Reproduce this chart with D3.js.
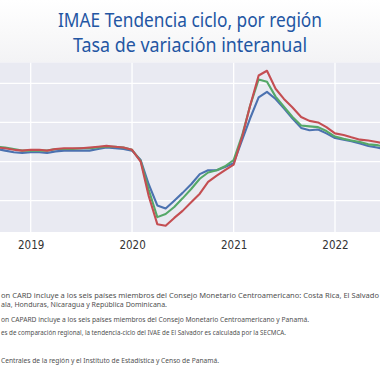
<!DOCTYPE html>
<html>
<head>
<meta charset="utf-8">
<script src="https://cdn.jsdelivr.net/npm/d3@7"></script>
<style>
  html, body { margin: 0; padding: 0; background: #fff; }
  svg { display: block; }
</style>
</head>
<body>
<div id="chart-container"></div>
<script>
// months from Sep 2018 to Jul 2022
const startMonth = [2018, 8]
const seriesNames = ['CARD', 'CAPARD', 'CA']
// interannual rate of change (%)
const blueValues = [1.6, 1.4, 1.2, 1.1, 1.2, 1.2, 1.1, 1.3, 1.4, 1.4, 1.4, 1.4, 1.6, 1.8, 1.7, 1.6, 1.4, 0.2,
  -2.9, -5.6, -6.0, -5.0, -4.0, -2.9, -1.6, -1.1, -1.1, -0.7, -0.2, 2.8, 5.5, 8.2, 8.9, 8.0, 6.8, 5.5,
  4.3, 4.0, 4.1, 3.6, 3.0, 2.8, 2.6, 2.3, 2.0, 1.8, 1.6]
const greenValues = [1.9, 1.8, 1.6, 1.4, 1.4, 1.4, 1.4, 1.6, 1.6, 1.6, 1.7, 1.7, 1.8, 1.9, 1.9, 1.8, 1.5, 0.1,
  -3.6, -7.1, -6.7, -5.8, -4.7, -3.5, -2.2, -1.4, -1.1, -0.6, 0.2, 3.4, 7.1, 10.5, 10.2, 8.3, 7.0, 5.7,
  4.6, 4.5, 4.4, 3.9, 3.2, 2.9, 2.7, 2.5, 2.2, 2.1, 1.9]
const redValues = [1.8, 1.7, 1.5, 1.4, 1.5, 1.5, 1.4, 1.6, 1.7, 1.7, 1.7, 1.8, 1.9, 2.0, 1.9, 1.8, 1.5, 0.0,
  -4.4, -8.0, -8.2, -7.2, -6.3, -5.2, -4.1, -2.6, -1.8, -1.1, -0.4, 3.2, 7.1, 11.0, 11.6, 9.3, 8.0, 6.9,
  5.7, 5.2, 5.0, 4.4, 3.6, 3.4, 3.1, 2.8, 2.7, 2.5, 2.3]
const yearTicks = [2019, 2020, 2021, 2022]
const yTicks = [-10, -5, 0, 5, 10, 15]
const titleLines = ['IMAE Tendencia ciclo, por región', 'Tasa de variación interanual']
const noteLines = [
  'on CARD incluye a los seis países miembros del Consejo Monetario Centroamericano: Costa Rica, El Salvado',
  'ala, Honduras, Nicaragua y República Dominicana.',
  'on CAPARD incluye a los seis países miembros del Consejo Monetario Centroamericano y Panamá.',
  'es de comparación regional, la tendencia-ciclo del IVAE de El Salvador es calculada por la SECMCA.',
  'Centrales de la región y el Instituto de Estadística y Censo de Panamá.'
]

const width = 380
const height = 380
const plot = { left: 0, right: 380, top: 62.5, bottom: 232 }

const svg = d3.select('#chart-container')
  .append('svg')
  .attr('width', width)
  .attr('height', height)

// faint header shading
const defs = svg.append('defs')
const grad = defs.append('linearGradient')
  .attr('id', 'head-grad')
  .attr('x1', 0).attr('y1', 0).attr('x2', 0).attr('y2', 1)
grad.append('stop').attr('offset', '0%').attr('stop-color', '#ffffff')
grad.append('stop').attr('offset', '100%').attr('stop-color', '#f3f3f5')
svg.append('rect')
  .attr('x', 0).attr('y', 0)
  .attr('width', width).attr('height', plot.top)
  .attr('fill', 'url(#head-grad)')

defs.append('clipPath')
  .attr('id', 'plot-clip')
  .append('rect')
  .attr('x', plot.left).attr('y', plot.top)
  .attr('width', plot.right - plot.left).attr('height', plot.bottom - plot.top)

// title
svg.append('g')
  .selectAll('text')
  .data(titleLines)
  .join('text')
  .attr('x', width / 2)
  .attr('y', (d, i) => 27 + i * 25)
  .attr('text-anchor', 'middle')
  .attr('font-family', '"Noto Sans", sans-serif')
  .attr('font-size', 19.5)
  .attr('fill', '#2356a3')
  .attr('textLength', (d, i) => i === 0 ? 264 : 234)
  .attr('lengthAdjust', 'spacingAndGlyphs')
  .text(d => d)

const dates = blueValues.map((v, i) => new Date(startMonth[0], startMonth[1] + i, 1))

const x = d3.scaleTime()
  .domain([new Date(2019, 0, 1), new Date(2022, 0, 1)])
  .range([30.7, 335])

const y = d3.scaleLinear()
  .domain([-5, 10])
  .range([200.7, 83.3])

// plot background
svg.append('rect')
  .attr('x', plot.left).attr('y', plot.top)
  .attr('width', plot.right - plot.left).attr('height', plot.bottom - plot.top)
  .attr('fill', '#e9eaf2')

const grid = svg.append('g').attr('clip-path', 'url(#plot-clip)')

grid.selectAll('line.h')
  .data(yTicks)
  .join('line')
  .attr('class', 'h')
  .attr('x1', plot.left).attr('x2', plot.right)
  .attr('y1', d => y(d)).attr('y2', d => y(d))
  .attr('stroke', '#ffffff')
  .attr('stroke-width', 1.3)

grid.selectAll('line.v')
  .data(yearTicks)
  .join('line')
  .attr('class', 'v')
  .attr('x1', d => x(new Date(d, 0, 1))).attr('x2', d => x(new Date(d, 0, 1)))
  .attr('y1', plot.top).attr('y2', plot.bottom)
  .attr('stroke', '#ffffff')
  .attr('stroke-width', 1.3)

// lines
const series = [
  { name: seriesNames[0], values: blueValues, color: '#4c72b0' },
  { name: seriesNames[1], values: greenValues, color: '#55a868' },
  { name: seriesNames[2], values: redValues, color: '#c44e52' }
]

const line = d3.line()
  .x((d, i) => x(dates[i]))
  .y(d => y(d))

svg.append('g')
  .attr('clip-path', 'url(#plot-clip)')
  .selectAll('path')
  .data(series)
  .join('path')
  .attr('d', d => line(d.values))
  .attr('fill', 'none')
  .attr('stroke', d => d.color)
  .attr('stroke-width', 2.1)
  .attr('stroke-linejoin', 'round')

// x axis labels
const xAxis = d3.axisBottom(x)
  .tickValues(yearTicks.map(yr => new Date(yr, 0, 1)))
  .tickFormat(d3.timeFormat('%Y'))
  .tickSize(0)
  .tickPadding(9)

const axisG = svg.append('g')
  .attr('transform', `translate(0,${plot.bottom})`)
  .call(xAxis)
axisG.select('.domain').remove()
axisG.selectAll('text')
  .attr('font-family', '"Liberation Sans Narrow", "DejaVu Sans Condensed", sans-serif')
  .attr('font-size', 11.5)
  .attr('fill', '#333')

// footnotes
const noteY = [297.5, 306.5, 321.5, 334.5, 363]
const noteW = [378, 166, 308, 285, 218]
svg.append('g')
  .selectAll('text')
  .data(noteLines)
  .join('text')
  .attr('x', 1)
  .attr('y', (d, i) => noteY[i])
  .attr('font-family', '"Noto Sans", sans-serif')
  .attr('font-size', 7.2)
  .attr('fill', '#505050')
  .attr('textLength', (d, i) => noteW[i])
  .attr('lengthAdjust', 'spacingAndGlyphs')
  .text(d => d)
</script>
</body>
</html>
